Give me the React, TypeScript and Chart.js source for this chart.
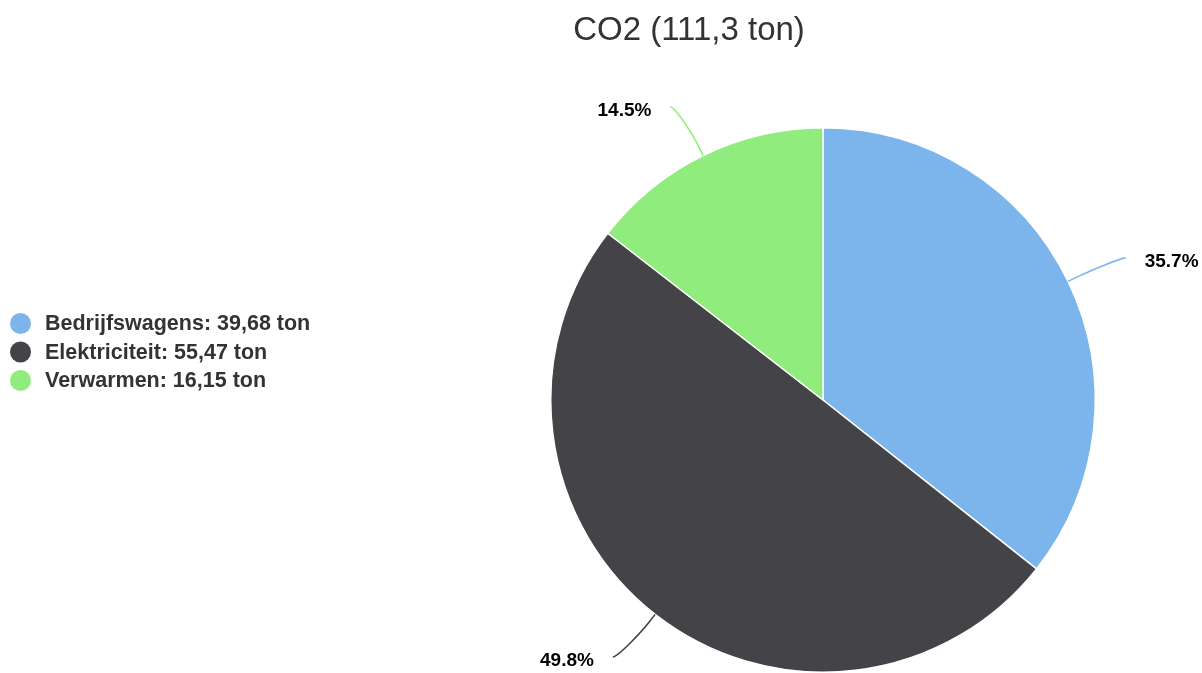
import React, { useEffect, useRef } from "react";
import { Chart, registerables } from "chart.js";

Chart.register(...registerables);

const categories = ["Bedrijfswagens", "Elektriciteit", "Verwarmen"];
const values = [39.68, 55.47, 16.15];
const colors = ["#7cb5ec", "#434348", "#90ed7d"];
const titleText = "CO2 (111,3 ton)";
const unitText = "ton";

const FONT = '"Liberation Sans", Arial, Helvetica, sans-serif';

const fmt = (v: number) => v.toFixed(2).replace(".", ",");

const overlayPlugin = {
  id: "overlay",
  afterDraw(chart: any) {
    const ctx: CanvasRenderingContext2D = chart.ctx;
    ctx.save();
    // title
    ctx.fillStyle = "#333333";
    ctx.font = `33px ${FONT}`;
    ctx.textAlign = "center";
    ctx.textBaseline = "alphabetic";
    ctx.fillText(titleText, 689, 40);

    // legend
    const rowY = [323.5, 352, 380.5];
    categories.forEach((c, i) => {
      ctx.beginPath();
      ctx.fillStyle = colors[i];
      ctx.arc(20.5, rowY[i], 10.5, 0, Math.PI * 2);
      ctx.fill();
      ctx.fillStyle = "#333333";
      ctx.font = `bold 21.5px ${FONT}`;
      ctx.textAlign = "left";
      ctx.textBaseline = "middle";
      ctx.fillText(`${c}: ${fmt(values[i])} ${unitText}`, 45, rowY[i] + 1);
    });

    // data labels
    const total = values.reduce((a, b) => a + b, 0);
    const meta = chart.getDatasetMeta(0);
    meta.data.forEach((arc: any, i: number) => {
      const p = arc.getProps(["x", "y", "startAngle", "endAngle", "outerRadius"], true);
      const mid = (p.startAngle + p.endAngle) / 2;
      const cos = Math.cos(mid);
      const sin = Math.sin(mid);
      const left = cos < 0;
      const r = p.outerRadius;
      const tx = p.x + r * cos;
      const ty = p.y + r * sin;
      const bx = p.x + (r + 11) * cos;
      const by = p.y + (r + 11) * sin;
      const ax = p.x + (r + 54) * cos + (left ? -9 : 9);
      const ay = p.y + (r + 54) * sin;
      ctx.strokeStyle = colors[i];
      ctx.lineWidth = 1.6;
      ctx.beginPath();
      ctx.moveTo(ax, ay);
      ctx.bezierCurveTo(ax + (left ? 5 : -5), ay, 2 * bx - tx, 2 * by - ty, bx, by);
      ctx.lineTo(tx, ty);
      ctx.stroke();

      ctx.fillStyle = "#000000";
      ctx.font = `bold 19px ${FONT}`;
      ctx.textBaseline = "middle";
      ctx.textAlign = left ? "right" : "left";
      const pct = ((values[i] / total) * 100).toFixed(1) + "%";
      ctx.fillText(pct, ax + (left ? -19 : 19), ay + 4);
    });
    ctx.restore();
  },
};

export default function App() {
  const ref = useRef<HTMLCanvasElement | null>(null);
  useEffect(() => {
    if (!ref.current) return;
    const chart = new Chart(ref.current, {
      type: "pie",
      data: {
        labels: categories,
        datasets: [
          {
            data: values,
            backgroundColor: colors,
            borderColor: "#ffffff",
            borderWidth: 1.5,
            hoverOffset: 0,
            offset: 0,
          },
        ],
      },
      options: {
        animation: false,
        responsive: true,
        maintainAspectRatio: false,
        events: [],
        layout: { padding: { left: 550, right: 106, top: 127, bottom: 0 } },
        plugins: {
          legend: { display: false },
          tooltip: { enabled: false },
          title: { display: false },
        },
      },
      plugins: [overlayPlugin],
    });
    return () => chart.destroy();
  }, []);
  return (
    <div
      style={{
        position: "absolute",
        left: 0,
        top: 0,
        width: 1202,
        height: 673,
        background: "#ffffff",
      }}
    >
      <canvas ref={ref} />
    </div>
  );
}
